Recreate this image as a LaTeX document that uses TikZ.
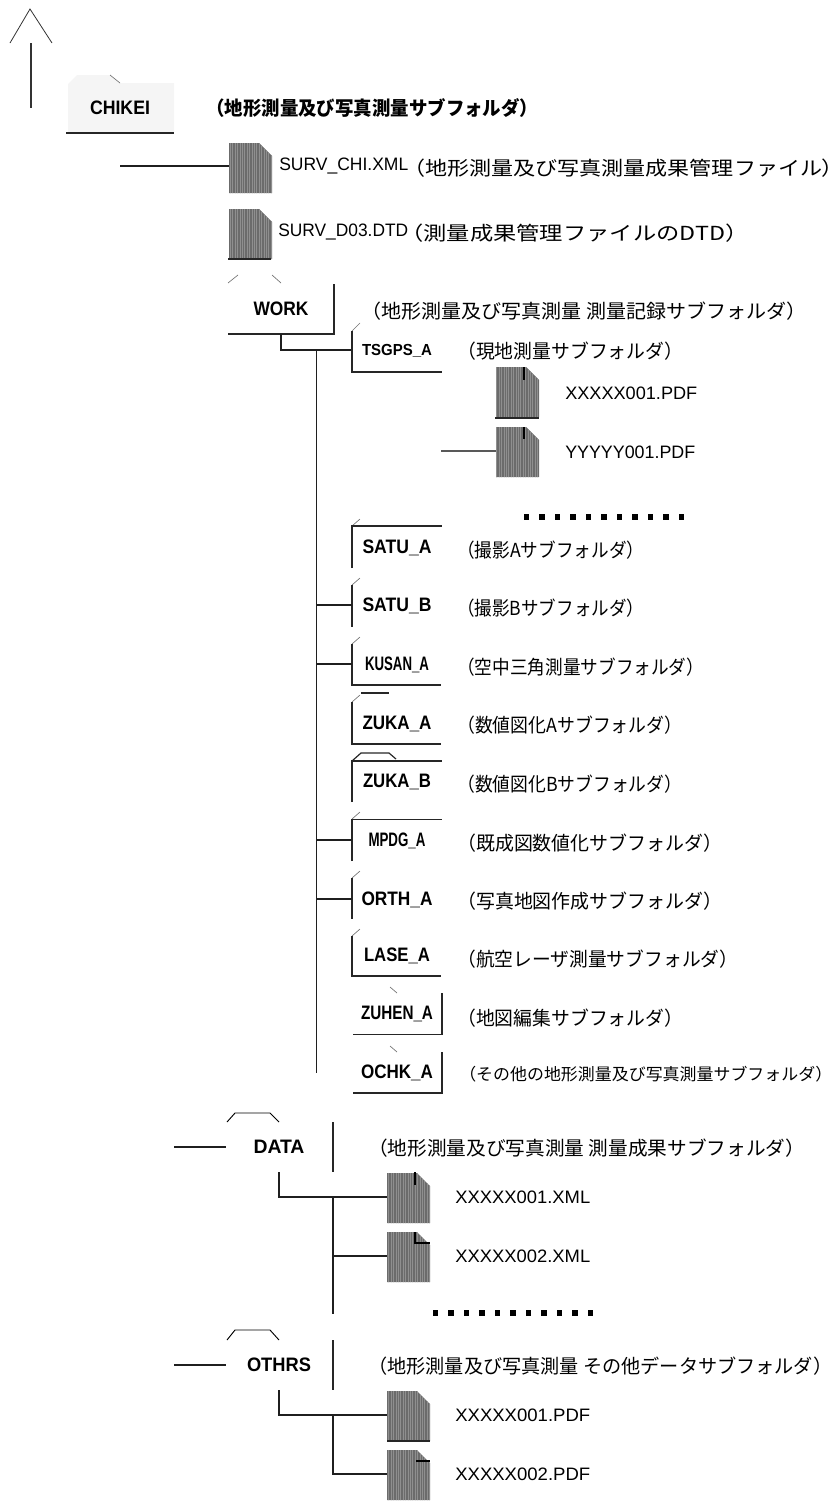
\documentclass[tikz,border=0pt]{standalone}
\usepackage{fontspec}
\usepackage{graphicx}
\setmainfont{Liberation Sans}
\newfontfamily\jp{Noto Sans CJK JP}
\newfontfamily\jpp[RawFeature=+palt]{Noto Sans CJK JP}
\usetikzlibrary{patterns,patterns.meta}
\newlength\pxu \setlength\pxu{0.75pt}
\newcommand\fitw[2]{\resizebox{#1\pxu}{\height}{#2}}
\definecolor{fileg}{gray}{0.42}
\definecolor{fileh}{gray}{0.56}
\definecolor{linec}{gray}{0.12}
\tikzset{
  x=0.75pt,y=-0.75pt,
  conn/.style={draw=linec,line width=0.9pt,line cap=butt},
  tick/.style={draw=black!55,line width=0.5pt},
  outline/.style={draw=black!85,line width=0.9pt},
  foldername/.style={font=\fontsize{14.6pt}{16pt}\selectfont\bfseries,inner sep=0pt,minimum width=67.5pt,minimum height=30pt,anchor=center,text depth=0pt},
  fname/.style={font=\fontsize{13.5pt}{15pt}\selectfont,inner sep=0pt,anchor=west},
  jlabel/.style={font=\fontsize{14.5pt}{16pt}\selectfont\jp,inner sep=0pt,anchor=west,yshift=-1pt},
  jsmall/.style={font=\fontsize{12.5pt}{14pt}\selectfont\jp,inner sep=0pt,anchor=west,yshift=-1pt},
  dotm/.style={fill=black,inner sep=0pt,minimum size=4pt,rectangle},
  jbold/.style={font=\fontsize{14.5pt}{16pt}\selectfont\jp\bfseries},
}
\newcommand\fileicon[3]{%
  \fill[fileg] (#2,#3) -- ++(30,0) -- ++(13,13) -- ++(0,37) -- ++(-43,0) -- cycle;
  \path[pattern={Lines[angle=90,distance=1.8pt,line width=0.7pt]},pattern color=fileh] (#2,#3) -- ++(30,0) -- ++(13,13) -- ++(0,37) -- ++(-43,0) -- cycle;
  \node[inner sep=0pt,minimum width=32.25pt,minimum height=36pt] (#1) at ({#2+21.5},{#3+24}) {};
}
\newcommand\dotrow[4]{% name, x, y, count
  \foreach \i in {1,...,#4} {\node[dotm] (#1\i) at ({#2+(\i-1)*15.5},#3) {};}
}
\begin{document}
\begin{tikzpicture}
\useasboundingbox (0,0) rectangle (834,1506);
% arrow
\coordinate (apexL) at (10,43);
\coordinate (apex) at (30,9);
\coordinate (apexR) at (52,43);
\coordinate (stemT) at (31,43);
\coordinate (stemB) at (31,108);
\draw[line width=0.6pt,black!80] (apexL) -- (apex) -- (apexR);
\draw[conn,black!80] (stemT) -- (stemB);
% CHIKEI
\fill[black!4] (68,84) -- (77,75) -- (110,75) -- (120,83) -- (174,83) -- (174,133) -- (68,133) -- cycle;
\draw[tick] (110,75) -- (120,83);
\draw[outline] (66,133) -- (174,133);
\node[foldername] (chikei) at (120,108) {\fitw{60}{CHIKEI}};
\node[jlabel,jbold] (chikeiT) at (206,107) {\fitw{332}{（地形測量及び写真測量サブフォルダ）}};
% top files
\coordinate (chiStart) at (120,166);
\fileicon{chi}{229}{143}
\draw[conn] (chiStart) -- (chiStart -| chi.west);
\node[fname] (chiN) at (279,166) {\fitw{129}{SURV\_CHI.XML}};
\node[jlabel] (chiT) at (403,167) {\fitw{430}{（地形測量及び写真測量成果管理ファイル{\jpp ）}}};
\fileicon{dtd}{229}{209}
\draw[outline] (228,259) -- (271,259);
\node[fname] (dtdN) at (278,232) {\fitw{130}{SURV\_D03.DTD}};
\node[jlabel] (dtdT) at (400,232) {\fitw{348}{（測量成果管理ファイルのDTD）}};
% WORK
\draw[tick] (228,283) -- (238,275);
\draw[tick] (272,275) -- (281,283);
\draw[outline] (228,334) -- (334,334) -- (334,284);
\node[foldername] (work) at (281,309) {\fitw{55}{WORK}};
\node[jlabel] (workT) at (361,310) {\fitw{445}{（地形測量及び写真測量 測量記録サブフォルダ）}};
\coordinate (workB) at (281,334);
\coordinate (trunkT) at (316.5,350);
\coordinate (trunkB) at (316.5,1073);
\node[foldername,font=\fontsize{12pt}{14pt}\selectfont\bfseries] (tsgps) at (397,350) {\fitw{70}{TSGPS\_A}};
\draw[conn] (workB) |- (tsgps.west);
\draw[conn] (trunkT) -- (trunkB);
% TSGPS
\draw[tick] (352,331) -- (360,323);
\draw[outline] (352,331) -- (352,372) -- (442,372);
\node[jlabel] (tsgpsT) at (457,350) {\fitw{226}{（現地測量サブフォルダ）}};
\fileicon{xpdf}{496}{367}
\draw[outline] (495,418) -- (539,418);
\draw[line width=1pt] (524,367) -- (524,380);
\node[fname] (xpdfN) at (565,393) {\fitw{132}{XXXXX001.PDF}};
\coordinate (yStart) at (441,451);
\fileicon{ypdf}{496}{427}
\draw[line width=1pt] (524,427) -- (524,439);
\draw[conn,black!65] (yStart) -- (ypdf.west);
\node[fname] (ypdfN) at (565,452) {\fitw{130}{YYYYY001.PDF}};
\dotrow{da}{526.5}{517}{11}
% SATU_A
\draw[tick] (352,526) -- (360,519);
\draw[outline] (352,568) -- (352,526) -- (442,526);
\node[foldername] (satua) at (397,547) {\fitw{69}{SATU\_A}};
\node[jlabel] (satuaT) at (457,549) {\fitw{187}{（撮影Aサブフォルダ）}};
% SATU_B
\draw[tick] (352,585) -- (360,578);
\draw[outline] (352,585) -- (352,627);
\node[foldername] (satub) at (397,605) {\fitw{69}{SATU\_B}};
\draw[conn] (trunkT |- satub.west) -- (satub.west);
\node[jlabel] (satubT) at (457,607) {\fitw{187}{（撮影Bサブフォルダ）}};
% KUSAN
\draw[tick] (352,644) -- (360,637);
\draw[outline] (352,644) -- (352,685) -- (441,685);
\node[foldername] (kusan) at (397,664) {\fitw{64}{KUSAN\_A}};
\draw[conn] (trunkT |- kusan.west) -- (kusan.west);
\node[jlabel] (kusanT) at (457,666) {\fitw{247}{（空中三角測量サブフォルダ）}};
% ZUKA_A
\draw[outline] (361,693) -- (389,693);
\draw[tick] (352,702) -- (360,695);
\draw[outline] (352,702) -- (352,744) -- (441,744);
\node[foldername] (zukaa) at (397,723) {\fitw{69}{ZUKA\_A}};
\node[jlabel] (zukaaT) at (457,724) {\fitw{225}{（数値図化Aサブフォルダ）}};
% ZUKA_B
\draw[outline] (352,761) -- (361,753) -- (389,753) -- (396,759);
\draw[outline] (352,802) -- (352,761) -- (442,761);
\node[foldername] (zukab) at (397,781) {\fitw{68}{ZUKA\_B}};
\node[jlabel] (zukabT) at (457,783) {\fitw{225}{（数値図化Bサブフォルダ）}};
% MPDG
\draw[tick] (352,819) -- (360,812);
\draw[outline] (352,861) -- (352,819.5) -- (442,819.5);
\node[foldername] (mpdg) at (397,840) {\fitw{57}{MPDG\_A}};
\draw[conn] (trunkT |- mpdg.west) -- (mpdg.west);
\node[jlabel] (mpdgT) at (457,842) {\fitw{265}{（既成図数値化サブフォルダ）}};
% ORTH
\draw[tick] (352,878) -- (360,871);
\draw[outline] (352,878) -- (352,919);
\node[foldername] (orth) at (397,899) {\fitw{71}{ORTH\_A}};
\draw[conn] (trunkT |- orth.west) -- (orth.west);
\node[jlabel] (orthT) at (457,900) {\fitw{265}{（写真地図作成サブフォルダ）}};
% LASE
\draw[tick] (352,936) -- (360,929);
\draw[outline] (352,936) -- (352,976) -- (441,976);
\node[foldername] (lase) at (397,955) {\fitw{66}{LASE\_A}};
\node[jlabel] (laseT) at (457,958) {\fitw{281}{（航空レーザ測量サブフォルダ）}};
% ZUHEN
\draw[tick] (390,987) -- (397,993);
\draw[outline] (353,1034.5) -- (442,1034.5) -- (442,993);
\node[foldername] (zuhen) at (397,1013) {\fitw{72}{ZUHEN\_A}};
\node[jlabel] (zuhenT) at (457,1017) {\fitw{226}{（地図編集サブフォルダ）}};
% OCHK
\draw[tick] (390,1046) -- (397,1052);
\draw[outline] (353,1093) -- (442,1093) -- (442,1052);
\node[foldername] (ochk) at (397,1072) {\fitw{72}{OCHK\_A}};
\node[jsmall] (ochkT) at (459,1073) {\fitw{373}{（その他の地形測量及び写真測量サブフォルダ）}};
% DATA
\coordinate (dataL) at (174,1147);
\coordinate (dataR) at (226,1147);
\draw[line width=0.7pt] (227,1122) -- (235,1113) -- (270,1113) -- (279,1122);
\node[foldername] (data) at (279,1147) {\fitw{51}{DATA}};
\draw[conn] (dataL) -- (dataR);
\coordinate (dataBarT) at (333,1122);
\coordinate (dataBarB) at (333,1172);
\draw[outline] (dataBarT) -- (dataBarB);
\node[jlabel] (dataT) at (368,1147) {\fitw{437}{（地形測量及び写真測量 測量成果サブフォルダ）}};
\coordinate (dataB) at (279,1172);
\fileicon{dx}{387}{1173}
\fileicon{dy}{387}{1232}
\draw[conn] (dataB) |- (dx.west);
\coordinate (dataTrunkB) at (333,1314);
\draw[conn] (dataBarB |- dx.west) -- (dataTrunkB);
\draw[conn] (dataBarB |- dy.west) -- (dy.west);
\draw[line width=1pt] (415,1172) -- (415,1185);
\draw[line width=0.9pt] (415,1232) -- (415,1243) -- (430,1243);
\node[fname] (dxN) at (455,1197) {\fitw{135}{XXXXX001.XML}};
\node[fname] (dyN) at (455,1256) {\fitw{135}{XXXXX002.XML}};
\dotrow{db}{435.5}{1313}{11}
% OTHRS
\coordinate (othL) at (174,1365);
\coordinate (othR) at (226,1365);
\draw[line width=0.7pt] (227,1340) -- (235,1330) -- (270,1330) -- (279,1340);
\node[foldername] (oth) at (279,1365) {\fitw{64}{OTHRS}};
\draw[conn] (othL) -- (othR);
\coordinate (othBarT) at (333,1340);
\coordinate (othBarB) at (333,1390);
\draw[outline] (othBarT) -- (othBarB);
\node[jlabel] (othT) at (368,1365) {\fitw{464}{（地形測量及び写真測量 その他データサブフォルダ）}};
\coordinate (othB) at (279,1390);
\fileicon{ox}{387}{1391}
\fileicon{oy}{387}{1450}
\draw[conn] (othB) |- (ox.west);
\draw[conn] (othBarB |- ox.west) |- (oy.west);
\draw[outline] (387,1441) -- (430,1441);
\draw[line width=0.9pt] (416,1461) -- (430,1461);
\node[fname] (oxN) at (455,1415) {\fitw{135}{XXXXX001.PDF}};
\node[fname] (oyN) at (455,1474) {\fitw{135}{XXXXX002.PDF}};
\end{tikzpicture}
\end{document}
